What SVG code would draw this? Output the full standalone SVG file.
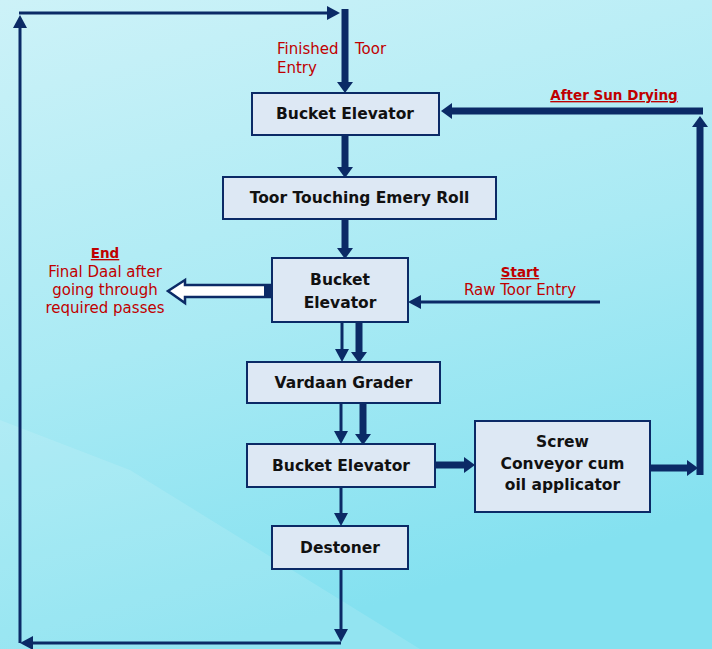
<svg xmlns="http://www.w3.org/2000/svg" width="712" height="649" viewBox="0 0 712 649">
<defs>
<linearGradient id="bg" x1="0" y1="0" x2="0.3" y2="1">
<stop offset="0" stop-color="#cdf2f8"/>
<stop offset="0.55" stop-color="#a9eaf4"/>
<stop offset="1" stop-color="#84e1f0"/>
</linearGradient>
<marker id="a" markerUnits="userSpaceOnUse" markerWidth="14" markerHeight="14" refX="0" refY="7" orient="auto">
<path d="M0,0 L13,7 L0,14 Z" fill="#0b2a66"/>
</marker>
<marker id="b" markerUnits="userSpaceOnUse" markerWidth="12" markerHeight="16" refX="0" refY="8" orient="auto">
<path d="M0,0 L11,8 L0,16 Z" fill="#0b2a66"/>
</marker>
<style>
.box{fill:#dde8f4;stroke:#0b2a66;stroke-width:2}
.bt{font-family:"DejaVu Sans",sans-serif;font-weight:bold;font-size:15.5px;fill:#111;text-anchor:middle}
.rt{font-family:"DejaVu Sans",sans-serif;font-size:15px;fill:#c00000}
.rb{font-family:"DejaVu Sans",sans-serif;font-weight:bold;font-size:13.5px;fill:#c00000;text-decoration:underline}
.thin{stroke:#0b2a66;stroke-width:3;fill:none}
.thick{stroke:#0b2a66;stroke-width:7;fill:none}
</style>
</defs>
<rect width="712" height="649" fill="url(#bg)"/>
<polygon points="0,420 130,470 420,649 0,649" fill="#ffffff" opacity="0.12"/>

<g id="connectors">
<line class="thick" x1="345" y1="9" x2="345" y2="82" marker-end="url(#b)"/>
<polyline class="thin" points="341,643 33,643" marker-end="url(#a)"/>
<line class="thin" x1="20" y1="643" x2="20" y2="28" marker-end="url(#a)"/>
<line class="thin" x1="19" y1="13" x2="327" y2="13" marker-end="url(#a)"/>
<line class="thick" x1="345" y1="135" x2="345" y2="167" marker-end="url(#b)"/>
<line class="thick" x1="345" y1="219" x2="345" y2="248" marker-end="url(#b)"/>
<line class="thin" x1="342" y1="322" x2="342" y2="349" marker-end="url(#a)"/>
<line class="thick" x1="359" y1="322" x2="359" y2="352" marker-end="url(#b)"/>
<line class="thin" x1="341" y1="403" x2="341" y2="431" marker-end="url(#a)"/>
<line class="thick" x1="363" y1="403" x2="363" y2="434" marker-end="url(#b)"/>
<line class="thin" x1="341" y1="487" x2="341" y2="513" marker-end="url(#a)"/>
<line class="thin" x1="341" y1="569" x2="341" y2="629" marker-end="url(#a)"/>
<line class="thick" x1="435" y1="465" x2="464" y2="465" marker-end="url(#b)"/>
<line class="thick" x1="650" y1="468" x2="687" y2="468" marker-end="url(#b)"/>
<line class="thick" x1="700" y1="475" x2="700" y2="127" marker-end="url(#b)"/>
<line class="thick" x1="703" y1="111" x2="452" y2="111" marker-end="url(#b)"/>
<line class="thin" x1="600" y1="302" x2="421" y2="302" marker-end="url(#a)"/>
<polygon points="270,285 185,285 185,280 168,291 185,303 185,297 270,297" fill="#ffffff" stroke="#0b2a66" stroke-width="2.5" stroke-linejoin="miter"/>
<rect x="264" y="284" width="7" height="14" fill="#0b2a66"/>
</g>

<g id="bucket-elevator-1">
<rect class="box" x="252" y="93" width="187" height="42"/>
<text class="bt" x="345" y="119">Bucket Elevator</text>
</g>
<g id="toor-touching-emery-roll">
<rect class="box" x="223" y="177" width="273" height="42"/>
<text class="bt" x="359.5" y="203">Toor Touching Emery Roll</text>
</g>
<g id="bucket-elevator-2">
<rect class="box" x="272" y="258" width="136" height="64"/>
<text class="bt" x="340" y="285">Bucket</text>
<text class="bt" x="340" y="308">Elevator</text>
</g>
<g id="vardaan-grader">
<rect class="box" x="247" y="362" width="193" height="41"/>
<text class="bt" x="343.5" y="388">Vardaan Grader</text>
</g>
<g id="bucket-elevator-3">
<rect class="box" x="247" y="444" width="188" height="43"/>
<text class="bt" x="341" y="471">Bucket Elevator</text>
</g>
<g id="screw-conveyor">
<rect class="box" x="475" y="421" width="175" height="91"/>
<text class="bt" x="562.5" y="447">Screw</text>
<text class="bt" x="562.5" y="469">Conveyor cum</text>
<text class="bt" x="562.5" y="490">oil applicator</text>
</g>
<g id="destoner">
<rect class="box" x="272" y="526" width="136" height="43"/>
<text class="bt" x="340" y="553">Destoner</text>
</g>

<g id="labels">
<text class="rt" x="277" y="54">Finished <tspan x="355">Toor</tspan></text>
<text class="rt" x="277" y="73">Entry</text>
<text class="rb" x="614" y="100" text-anchor="middle">After Sun Drying</text>
<text class="rb" x="105" y="258" text-anchor="middle">End</text>
<text class="rt" x="105" y="277" text-anchor="middle">Final Daal after</text>
<text class="rt" x="105" y="295" text-anchor="middle">going through</text>
<text class="rt" x="105" y="313" text-anchor="middle">required passes</text>
<text class="rb" x="520" y="277" text-anchor="middle">Start</text>
<text class="rt" x="520" y="295" text-anchor="middle">Raw Toor Entry</text>
</g>
</svg>
